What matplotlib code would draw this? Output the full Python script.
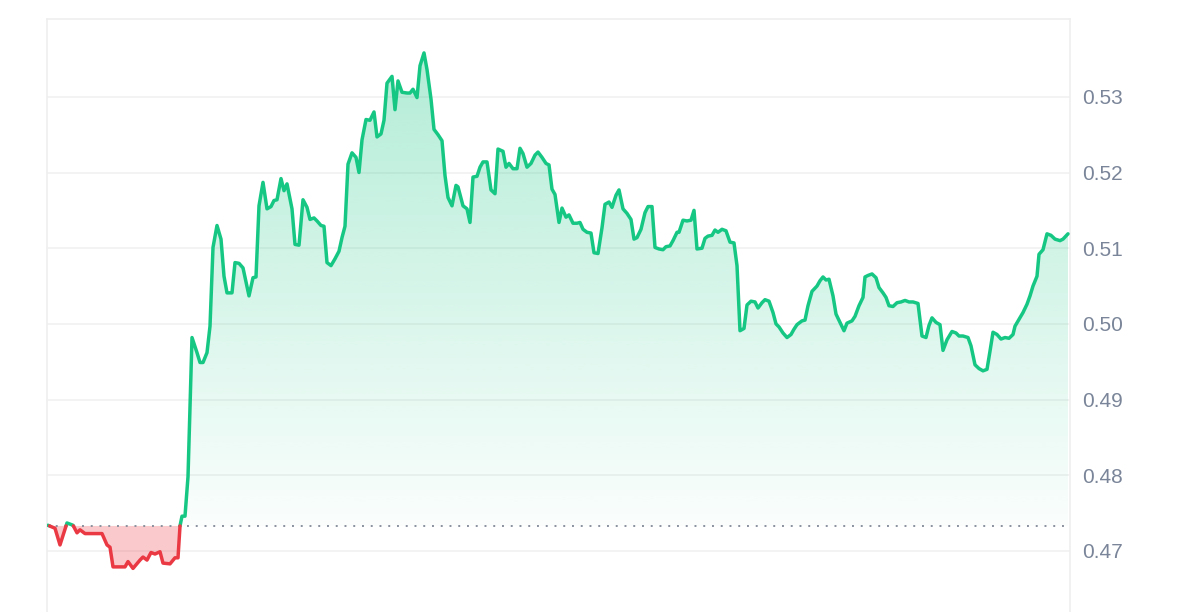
import numpy as np
import matplotlib.pyplot as plt
from matplotlib.path import Path
from matplotlib.patches import PathPatch

# time step (sample position) and price
t = [48, 55, 60, 67, 73, 77, 80, 85, 102, 107, 110, 113, 125, 128, 133, 140, 143, 147, 151, 155,
     160, 163, 170, 175, 178, 180, 182, 185, 188, 192, 197, 200, 203, 207, 210, 213, 217, 221, 224, 227,
     232, 235, 239, 243, 249, 253, 256, 259, 263, 267, 271, 274, 277, 281, 284, 287, 292, 295, 299, 303,
     307, 310, 314, 317, 321, 324, 327, 331, 335, 339, 342, 345, 348, 352, 356, 359, 362, 366, 370, 374,
     377, 381, 384, 387, 392, 395, 398, 402, 407, 410, 413, 417, 420, 424, 427, 431, 434, 438, 442, 445,
     448, 452, 456, 458, 463, 467, 470, 473, 477, 480, 483, 487, 491, 495, 498, 503, 506, 509, 513, 517,
     520, 523, 527, 531, 535, 538, 542, 546, 549, 552, 555, 559, 562, 566, 569, 573, 577, 580, 583, 587,
     591, 594, 598, 602, 605, 609, 612, 616, 619, 623, 627, 631, 634, 637, 641, 645, 648, 652, 655, 659,
     663, 666, 670, 673, 677, 679, 683, 687, 691, 694, 697, 702, 705, 708, 712, 715, 718, 722, 726, 730,
     734, 737, 740, 744, 747, 751, 755, 758, 762, 765, 769, 773, 776, 779, 783, 787, 791, 794, 797, 802,
     805, 808, 812, 817, 820, 823, 826, 829, 833, 836, 840, 844, 847, 852, 855, 859, 863, 865, 868, 872,
     876, 879, 883, 886, 889, 893, 897, 901, 905, 909, 913, 918, 922, 926, 929, 932, 936, 940, 943, 947,
     952, 956, 959, 963, 968, 971, 975, 979, 983, 987, 990, 993, 997, 1001, 1005, 1009, 1013, 1015, 1019, 1023,
     1027, 1030, 1033, 1037, 1039, 1043, 1047, 1051, 1055, 1060, 1063, 1068]
price = [0.4734, 0.4730, 0.4708, 0.4737, 0.4734, 0.4724, 0.4728, 0.4723, 0.4723, 0.4708,
         0.4705, 0.4679, 0.4679, 0.4686, 0.4677, 0.4688, 0.4692, 0.4688, 0.4698, 0.4696,
         0.4699, 0.4684, 0.4683, 0.4691, 0.4691, 0.4733, 0.4746, 0.4746, 0.4798, 0.4982,
         0.4962, 0.4949, 0.4949, 0.4962, 0.4997, 0.5101, 0.5130, 0.5112, 0.5063, 0.5041,
         0.5041, 0.5081, 0.5080, 0.5074, 0.5037, 0.5061, 0.5062, 0.5156, 0.5187, 0.5152,
         0.5155, 0.5163, 0.5164, 0.5192, 0.5176, 0.5185, 0.5152, 0.5105, 0.5104, 0.5164,
         0.5154, 0.5138, 0.5140, 0.5136, 0.5130, 0.5129, 0.5081, 0.5077, 0.5086, 0.5096,
         0.5114, 0.5129, 0.5211, 0.5226, 0.5220, 0.5200, 0.5243, 0.5270, 0.5269, 0.5280,
         0.5247, 0.5251, 0.5269, 0.5318, 0.5327, 0.5283, 0.5321, 0.5306, 0.5305, 0.5305,
         0.5310, 0.5299, 0.5341, 0.5358, 0.5336, 0.5297, 0.5257, 0.5250, 0.5242, 0.5196,
         0.5167, 0.5156, 0.5183, 0.5181, 0.5156, 0.5152, 0.5134, 0.5194, 0.5195, 0.5207,
         0.5214, 0.5214, 0.5177, 0.5172, 0.5231, 0.5228, 0.5207, 0.5212, 0.5205, 0.5205,
         0.5232, 0.5225, 0.5207, 0.5212, 0.5223, 0.5227, 0.5220, 0.5212, 0.5210, 0.5178,
         0.5171, 0.5134, 0.5153, 0.5141, 0.5144, 0.5133, 0.5133, 0.5134, 0.5125, 0.5121,
         0.5120, 0.5094, 0.5093, 0.5127, 0.5158, 0.5161, 0.5154, 0.5170, 0.5177, 0.5152,
         0.5146, 0.5138, 0.5112, 0.5114, 0.5125, 0.5147, 0.5155, 0.5155, 0.5101, 0.5099,
         0.5098, 0.5102, 0.5103, 0.5110, 0.5121, 0.5121, 0.5137, 0.5136, 0.5137, 0.5150,
         0.5099, 0.5100, 0.5113, 0.5116, 0.5117, 0.5124, 0.5121, 0.5125, 0.5123, 0.5108,
         0.5107, 0.5077, 0.4991, 0.4994, 0.5025, 0.5030, 0.5029, 0.5021, 0.5028, 0.5032,
         0.5030, 0.5015, 0.5000, 0.4996, 0.4988, 0.4982, 0.4986, 0.4993, 0.4999, 0.5004,
         0.5005, 0.5024, 0.5043, 0.5050, 0.5057, 0.5062, 0.5058, 0.5059, 0.5037, 0.5013,
         0.5002, 0.4991, 0.5001, 0.5004, 0.5010, 0.5024, 0.5035, 0.5062, 0.5064, 0.5066,
         0.5061, 0.5048, 0.5041, 0.5035, 0.5024, 0.5023, 0.5028, 0.5029, 0.5031, 0.5029,
         0.5029, 0.5027, 0.4984, 0.4982, 0.4998, 0.5008, 0.5002, 0.4999, 0.4965, 0.4979,
         0.4990, 0.4988, 0.4984, 0.4984, 0.4982, 0.4971, 0.4946, 0.4941, 0.4938, 0.4940,
         0.4964, 0.4989, 0.4986, 0.4980, 0.4982, 0.4981, 0.4986, 0.4997, 0.5006, 0.5015,
         0.5026, 0.5037, 0.5050, 0.5063, 0.5092, 0.5098, 0.5119, 0.5117, 0.5112, 0.5110,
         0.5112, 0.5119]
base = 0.47331  # opening price (dotted line)
yticks = [0.47, 0.48, 0.49, 0.50, 0.51, 0.52, 0.53]

GREEN = '#16c784'
RED = '#ea3943'

t = np.array(t, dtype=float)
price = np.array(price)

fig = plt.figure(figsize=(12, 6.12), dpi=100)
ax = fig.add_axes([47 / 1200, 0, 1023 / 1200, 593 / 612])
ax.set_xlim(47, 1070)
ax.set_ylim(0.46194, 0.54028)

# insert crossing points so the colours switch exactly on the baseline
xs, ys = [t[0]], [price[0]]
for i in range(1, len(t)):
    y0, y1 = price[i - 1], price[i]
    if (y0 - base) * (y1 - base) < 0:
        f = (base - y0) / (y1 - y0)
        xs.append(t[i - 1] + f * (t[i] - t[i - 1]))
        ys.append(base)
    xs.append(t[i])
    ys.append(y1)
xs, ys = np.array(xs), np.array(ys)

# red fill below baseline
ax.fill_between(xs, ys, base, where=ys <= base, interpolate=True,
                color=RED, alpha=0.27, linewidth=0, zorder=2)

# green gradient fill above baseline
up_fill = ax.fill_between(xs, ys, base, where=ys >= base, interpolate=True,
                          color='none', linewidth=0)
clip = PathPatch(Path.make_compound_path(*up_fill.get_paths()),
                 transform=ax.transData, facecolor='none', edgecolor='none')
ax.add_patch(clip)
grad = np.zeros((256, 1, 4))
grad[:, 0, 0:3] = np.array([22, 199, 132]) / 255
grad[:, 0, 3] = np.linspace(0.02, 0.33, 256)
im = ax.imshow(grad, extent=[47, 1070, base, ys.max()], origin='lower',
               aspect='auto', zorder=2, interpolation='bilinear')
im.set_clip_path(clip)

# line, split by colour
up = np.where(ys >= base, ys, np.nan)
dn = np.where(ys <= base, ys, np.nan)
ax.plot(xs, up, color=GREEN, lw=2.5, solid_joinstyle='round', solid_capstyle='round', zorder=4)
ax.plot(xs, dn, color=RED, lw=2.5, solid_joinstyle='round', solid_capstyle='round', zorder=4)

ax.axhline(base, color='#8a919e', lw=1.4, linestyle=(0, (1, 3.5)), zorder=3)

ax.set_yticks(yticks)
ax.set_yticklabels(['%.2f' % v for v in yticks])
ax.yaxis.tick_right()
ax.tick_params(axis='y', length=0, pad=9, labelsize=15, labelcolor='#7a8599')
for lab in ax.get_yticklabels():
    lab.set_fontfamily('Liberation Sans')
ax.set_xticks([])
ax.grid(axis='y', color='#f0f0f0', lw=1.1, zorder=0)
ax.set_axisbelow(True)
for s in ['left', 'right', 'top']:
    ax.spines[s].set_color('#eeeeee')
    ax.spines[s].set_linewidth(1.1)
ax.spines['bottom'].set_visible(False)

fig.savefig('out.png', dpi=100)
